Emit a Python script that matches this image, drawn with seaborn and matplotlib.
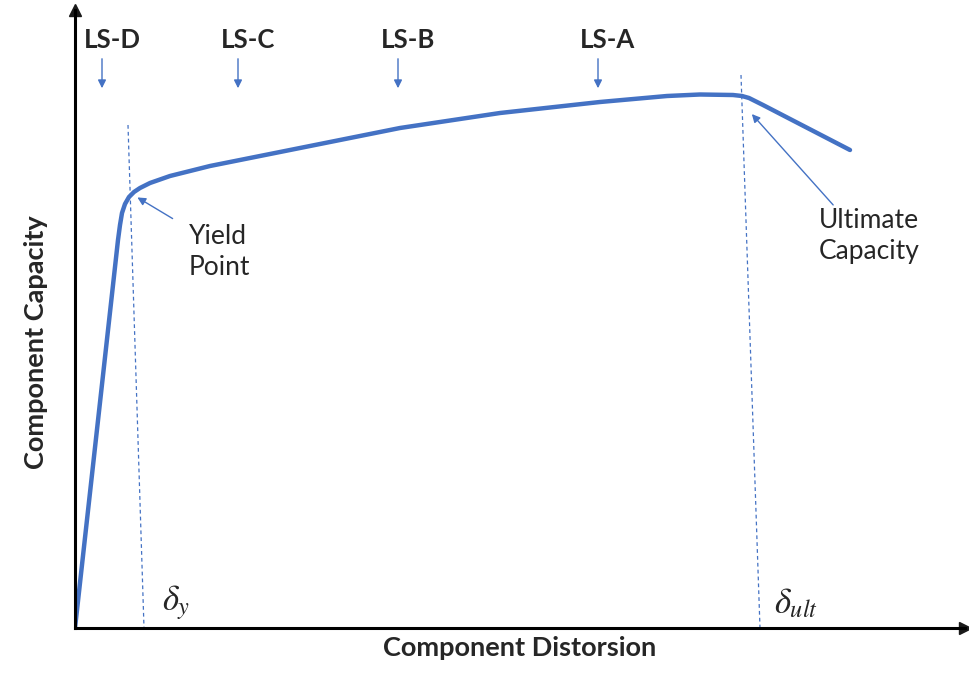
import matplotlib
matplotlib.use("Agg")
import matplotlib.pyplot as plt
import pandas as pd
import seaborn as sns

# capacity curve (x = distortion, y = capacity, arbitrary units)
distortion = [0, 43, 45, 47, 50, 54, 59, 65, 75, 95, 135, 225, 325, 425, 525, 592,
              625, 658, 667, 674, 680, 688, 775]
capacity = [0, 388, 403, 415, 424, 431, 436, 440, 445, 452, 462, 480, 500, 515, 526, 532,
            533.5, 533, 532, 530, 527, 523, 478]

# dashed guides at yield and ultimate distortion
yield_guide_x = [53, 69]
yield_guide_y = [503, 0]
ult_guide_x = [666, 685]
ult_guide_y = [553, 0]

# limit state markers
ls_labels = ["LS-D", "LS-C", "LS-B", "LS-A"]
ls_x = [27, 163, 323, 523]

BLUE = "#4472C4"


def main() -> None:
    sns.set_theme(style="white")
    plt.rcParams["font.family"] = ["Lato", "DejaVu Sans"]
    plt.rcParams["mathtext.fontset"] = "stix"

    fig = plt.figure(figsize=(9.7, 6.92), dpi=100)
    ax = fig.add_axes([75 / 970, 64 / 692, 890 / 970, 618 / 692])

    curve = pd.DataFrame({"distortion": distortion, "capacity": capacity})
    sns.lineplot(data=curve, x="distortion", y="capacity", color=BLUE, lw=3.2,
                 sort=False, ax=ax, solid_capstyle="round", solid_joinstyle="round")

    ax.plot(yield_guide_x, yield_guide_y, color=BLUE, lw=0.9, ls=(0, (3, 2.5)))
    ax.plot(ult_guide_x, ult_guide_y, color=BLUE, lw=0.9, ls=(0, (3, 2.5)))

    ax.set_xlim(0, 890)
    ax.set_ylim(0, 618)
    ax.set_xticks([])
    ax.set_yticks([])
    for side in ["top", "right"]:
        ax.spines[side].set_visible(False)
    for side in ["left", "bottom"]:
        ax.spines[side].set_color("black")
        ax.spines[side].set_linewidth(2.2)
    ax.plot(1, 0, ">k", ms=8, transform=ax.transAxes, clip_on=False)
    ax.plot(0, 1, "^k", ms=8, transform=ax.transAxes, clip_on=False)

    ax.set_xlabel("Component Distorsion", fontsize=19.5, fontweight="bold", labelpad=6)
    ax.set_ylabel("Component Capacity", fontsize=19.5, fontweight="bold")
    ax.yaxis.set_label_coords(-0.030, 0.462)

    for lab, x in zip(ls_labels, ls_x):
        ax.text(x + 10, 588, lab, fontsize=18.5, fontweight="bold", ha="center", va="center")
        ax.annotate("", xy=(x, 537), xytext=(x, 572),
                    arrowprops=dict(arrowstyle="-|>", color=BLUE, lw=1, mutation_scale=12))

    ax.text(114, 376, "Yield\nPoint", fontsize=19, va="center", ha="left", linespacing=1.3)
    ax.annotate("", xy=(60, 432), xytext=(100, 408),
                arrowprops=dict(arrowstyle="-|>", color=BLUE, lw=1, mutation_scale=12))

    ax.text(744, 392, "Ultimate\nCapacity", fontsize=19, va="center", ha="left", linespacing=1.3)
    ax.annotate("", xy=(675, 516), xytext=(760, 421),
                arrowprops=dict(arrowstyle="-|>", color=BLUE, lw=1, mutation_scale=12))

    ax.text(87, 25, r"$\delta_y$", fontsize=25, ha="left", va="center")
    ax.text(699, 25, r"$\delta_{ult}$", fontsize=25, ha="left", va="center")

    fig.savefig("out.png", dpi=100)
    plt.close(fig)


if __name__ == "__main__":
    main()
